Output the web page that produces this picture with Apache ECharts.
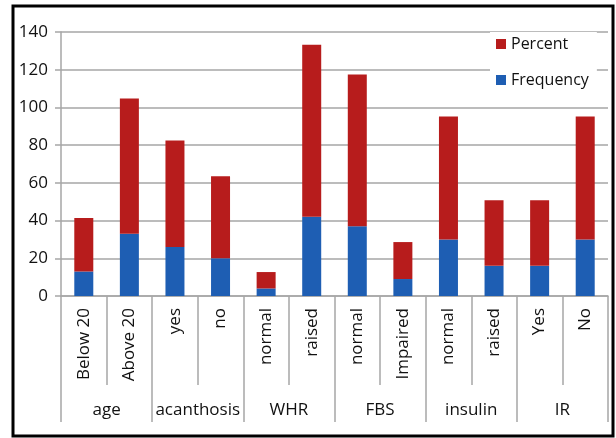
<!DOCTYPE html>
<html>
<head>
<meta charset="utf-8">
<script src="https://cdn.jsdelivr.net/npm/echarts@6/dist/echarts.min.js"></script>
<style>
html,body{margin:0;padding:0;background:#fff;}
#c{width:616px;height:438px;}
</style>
</head>
<body>
<div id="c"></div>
<script>
const subCategories = ['Below 20','Above 20','yes','no','normal','raised','normal','Impaired','normal','raised','Yes','No'];
const groups = ['age','acanthosis','WHR','FBS','insulin','IR'];
const frequency = [13,33,26,20,4,42,37,9,30,16,16,30];
const percent = [28.3,71.7,56.5,43.5,8.7,91.3,80.4,19.6,65.2,34.8,34.8,65.2];
const yTicks = {min:0,max:140,interval:20};

const FONT = '"Open Sans", sans-serif';
const TXT = '#111';
const GRID = '#a6a6a6';

const chart = echarts.init(document.getElementById('c'), null, {renderer:'canvas'});
chart.setOption({
  animation:false,
  backgroundColor:'#fff',
  textStyle:{fontFamily:FONT},
  grid:{left:61,right:8,top:32,bottom:142,containLabel:false},
  legend:{
    orient:'vertical',
    left:490, top:32,
    padding:[4,8,10,6],
    backgroundColor:'#fff',
    itemWidth:10,itemHeight:10,itemGap:20,
    icon:'rect',
    data:['Percent','Frequency'],
    textStyle:{fontFamily:FONT,fontSize:16,color:TXT}
  },
  xAxis:[{
    type:'category',
    data:subCategories,
    position:'bottom',
    axisLine:{show:true,lineStyle:{color:GRID,width:1.5}},
    axisTick:{show:true,interval:0,length:89,lineStyle:{color:GRID,width:1.5}},
    axisLabel:{interval:0,rotate:90,margin:12,fontFamily:FONT,fontSize:17,color:TXT}
  },{
    type:'category',
    data:groups,
    position:'bottom',
    axisLine:{show:false},
    axisTick:{show:true,interval:0,length:126,lineStyle:{color:GRID,width:1.5}},
    axisLabel:{interval:0,margin:106,fontFamily:FONT,fontSize:17,color:TXT}
  }],
  yAxis:{
    type:'value',
    min:yTicks.min,max:yTicks.max,interval:yTicks.interval,
    axisLine:{show:true,lineStyle:{color:GRID,width:1.5}},
    axisTick:{show:true,length:6,lineStyle:{color:GRID,width:1.5}},
    splitLine:{show:true,lineStyle:{color:GRID,width:1.5}},
    axisLabel:{margin:13,fontFamily:FONT,fontSize:17,color:TXT}
  },
  series:[{
    name:'Frequency',type:'bar',stack:'s',xAxisIndex:0,
    data:frequency,barWidth:19,
    itemStyle:{color:'#1E5EB3'}
  },{
    name:'Percent',type:'bar',stack:'s',xAxisIndex:0,
    data:percent,barWidth:19,
    itemStyle:{color:'#B71C1C'}
  }],
  graphic:[{
    type:'rect',
    shape:{x:13,y:6,width:600,height:430},
    style:{fill:null,stroke:'#000',lineWidth:3},
    silent:true
  }]
});
</script>
</body>
</html>
